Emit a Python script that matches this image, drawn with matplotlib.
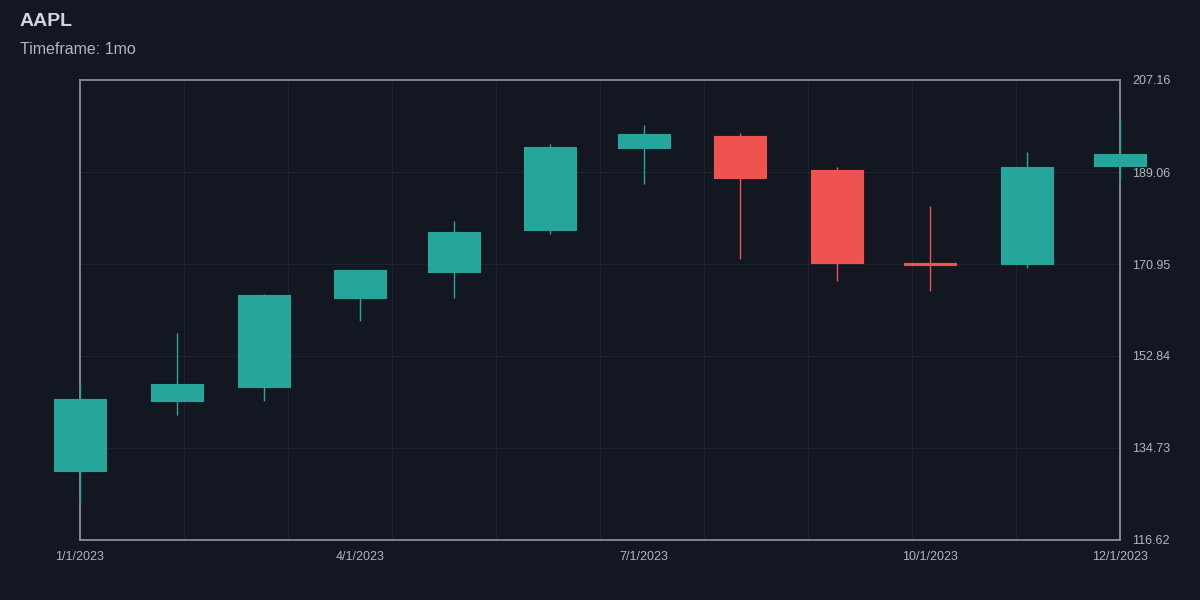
import numpy as np
import pandas as pd
import matplotlib
matplotlib.use("Agg")
import matplotlib.pyplot as plt
import matplotlib.dates as mdates
from matplotlib.patches import Rectangle
from matplotlib.ticker import FixedLocator, FuncFormatter

# dados mensais AAPL 2023
datas = pd.date_range("2023-01-01", "2023-12-01", freq="MS")
abertura = [130.28, 143.97, 146.83, 164.27, 169.28, 177.70, 193.78, 196.24, 189.49, 171.22, 171.00, 190.33]
maxima = [147.23, 157.38, 165.00, 169.85, 179.35, 194.48, 198.23, 196.73, 189.98, 182.34, 192.93, 199.62]
minima = [124.17, 141.32, 143.90, 159.78, 164.31, 176.93, 186.60, 171.96, 167.62, 165.67, 170.12, 187.45]
fechamento = [144.29, 147.41, 164.90, 169.68, 177.25, 193.97, 196.45, 187.87, 171.21, 170.77, 189.95, 192.53]
datas_rotulo = ["2023-01-01", "2023-04-01", "2023-07-01", "2023-10-01", "2023-12-01"]

fundo = "#131722"
verde = "#26a69a"
vermelho = "#ef5350"

plt.rcParams['font.family'] = ['Liberation Sans', 'DejaVu Sans']

fig = plt.figure(figsize=(12, 6), dpi=100, facecolor=fundo)
ax = fig.add_axes([80 / 1200, 1 - 540 / 600, 1040 / 1200, 460 / 600])
ax.set_facecolor(fundo)

x = mdates.date2num(datas)
largura = 16.7  # dias

for xi, o, h, l, c in zip(x, abertura, maxima, minima, fechamento):
    cor = verde if c >= o else vermelho
    ax.plot([xi, xi], [l, h], color=cor, lw=1.0, clip_on=False, zorder=3, solid_capstyle='butt')
    base = min(o, c)
    altura = max(abs(c - o), 0.25)
    ax.add_patch(Rectangle((xi - largura / 2, base), largura, altura, facecolor=cor,
                           edgecolor=cor, lw=0.8, clip_on=False, zorder=4))

# escala y com margem de 10%
faixa = max(maxima) - min(minima)
y0, y1 = min(minima) - 0.1 * faixa, max(maxima) + 0.1 * faixa
ax.set_ylim(y0, y1)
ax.set_xlim(x[0], x[-1])

yticks = np.linspace(y0, y1, 6)
ax.yaxis.tick_right()
ax.set_yticks(yticks)
ax.yaxis.set_major_formatter(FuncFormatter(lambda v, p: f"{v:.2f}"))

xt = mdates.date2num(pd.to_datetime(datas_rotulo))
ax.xaxis.set_major_locator(FixedLocator(xt))
ax.xaxis.set_major_formatter(FuncFormatter(
    lambda v, p: f"{mdates.num2date(v).month}/{mdates.num2date(v).day}/{mdates.num2date(v).year}"))
ax.xaxis.set_minor_locator(FixedLocator(np.linspace(x[0], x[-1], 11)[1:-1]))

ax.tick_params(axis='both', which='both', length=0, colors="#b2b5be", labelsize=9)
ax.tick_params(axis='y', pad=9)
ax.tick_params(axis='x', pad=8)
ax.grid(True, axis='y', which='major', color="#2a2e39", lw=0.8, alpha=0.5)
ax.grid(True, axis='x', which='minor', color="#2a2e39", lw=0.8, alpha=0.5)
ax.set_axisbelow(True)

for s in ax.spines.values():
    s.set_color("#8a8d96")
    s.set_linewidth(1.3)
    s.set_zorder(2)

fig.text(20 / 1200, 1 - 22 / 600, "AAPL", color="#d1d4dc", fontsize=14, fontweight='bold', va='center', ha='left')
fig.text(20 / 1200, 1 - 49 / 600, "Timeframe: 1mo", color="#b2b5be", fontsize=11.5, va='center', ha='left')

fig.savefig("out.png", dpi=100, facecolor=fundo)
